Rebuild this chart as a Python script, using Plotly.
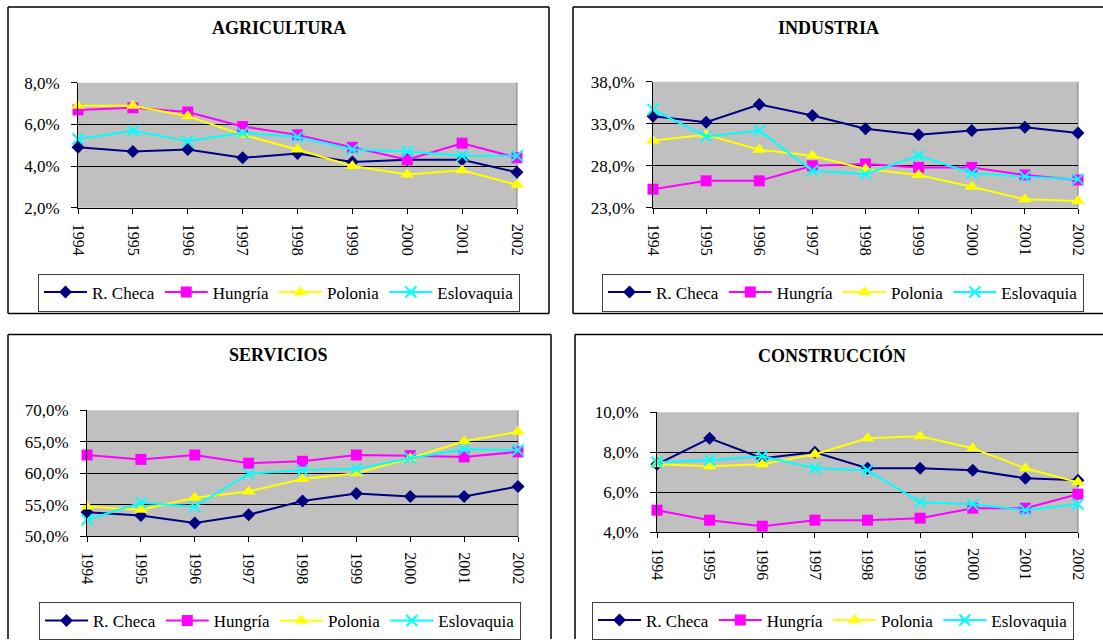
import plotly.graph_objects as go

# Years on the horizontal axis
years = [1994, 1995, 1996, 1997, 1998, 1999, 2000, 2001, 2002]

# Sector shares (%) by country
agri_checa = [4.9, 4.7, 4.8, 4.4, 4.6, 4.2, 4.3, 4.3, 3.7]
agri_hungria = [6.7, 6.8, 6.6, 5.9, 5.5, 4.9, 4.3, 5.1, 4.4]
agri_polonia = [6.9, 6.9, 6.4, 5.5, 4.8, 4.0, 3.6, 3.8, 3.1]
agri_eslovaquia = [5.3, 5.7, 5.2, 5.6, 5.4, 4.8, 4.7, 4.5, 4.5]

ind_checa = [33.9, 33.2, 35.3, 34.0, 32.4, 31.7, 32.2, 32.6, 31.9]
ind_hungria = [25.2, 26.2, 26.2, 28.0, 28.2, 27.8, 27.8, 26.9, 26.3]
ind_polonia = [31.0, 31.7, 29.9, 29.2, 27.6, 26.9, 25.5, 24.0, 23.8]
ind_eslovaquia = [34.7, 31.5, 32.2, 27.4, 27.0, 29.2, 27.1, 26.7, 26.4]

serv_checa = [53.8, 53.3, 52.1, 53.4, 55.6, 56.8, 56.3, 56.3, 57.9]
serv_hungria = [62.9, 62.2, 62.9, 61.6, 61.9, 62.9, 62.8, 62.6, 63.4]
serv_polonia = [54.7, 54.2, 56.1, 57.1, 59.1, 60.0, 62.4, 65.1, 66.6]
serv_eslovaquia = [52.6, 55.3, 54.7, 59.9, 60.5, 60.7, 62.4, 63.8, 63.7]

cons_checa = [7.4, 8.7, 7.7, 8.0, 7.2, 7.2, 7.1, 6.7, 6.6]
cons_hungria = [5.1, 4.6, 4.3, 4.6, 4.6, 4.7, 5.2, 5.2, 5.9]
cons_polonia = [7.4, 7.3, 7.4, 7.9, 8.7, 8.8, 8.2, 7.2, 6.5]
cons_eslovaquia = [7.5, 7.6, 7.8, 7.2, 7.1, 5.5, 5.4, 5.1, 5.4]

countries = ["R. Checa", "Hungría", "Polonia", "Eslovaquia"]
titles = ["AGRICULTURA", "INDUSTRIA", "SERVICIOS", "CONSTRUCCIÓN"]
y_ranges = [(2, 8, 2), (23, 38, 5), (50, 70, 5), (4, 10, 2)]

panels = [
    [agri_checa, agri_hungria, agri_polonia, agri_eslovaquia],
    [ind_checa, ind_hungria, ind_polonia, ind_eslovaquia],
    [serv_checa, serv_hungria, serv_polonia, serv_eslovaquia],
    [cons_checa, cons_hungria, cons_polonia, cons_eslovaquia],
]

W, H = 1103, 640
FONT = "Liberation Serif"


def px(x):
    return x / W


def py(y):
    return 1 - y / H


# Plot areas in pixels: left, top, right, bottom
plot_boxes = [(78, 83, 517, 208), (653, 82, 1078, 208),
              (87, 411, 518, 537), (657, 413, 1078, 533)]
# Outer chart frames (clamped to the page edges)
frames = [(8, 7, 549, 314), (573, 7, W, 314),
          (8, 335, 551, H), (575, 335, W, H)]
# Legend left edge and vertical centre
legend_pos = [(38, 292.5), (602, 292.5), (39, 622), (592, 620.5)]
title_pos = [(279, 28), (828, 28), (278, 356), (832, 356)]

styles = [
    dict(color="#000080", symbol="diamond", size=10),
    dict(color="#FF00FF", symbol="square", size=11),
    dict(color="#FFFF00", symbol="triangle-up", size=12),
    dict(color="#00FFFF", symbol="x-thin", size=11),
]

fig = go.Figure()
shapes = []
annotations = []


def seg(x0, y0, x1, y1, color="black", width=1.5):
    return dict(type="line", xref="paper", yref="paper", layer="below",
                x0=px(x0), y0=py(y0), x1=px(x1), y1=py(y1),
                line=dict(color=color, width=width))


for i, series in enumerate(panels):
    n = i + 1
    xa = "x" if n == 1 else f"x{n}"
    ya = "y" if n == 1 else f"y{n}"
    lg = "legend" if n == 1 else f"legend{n}"
    for name, vals, st in zip(countries, series, styles):
        marker = dict(color=st["color"], symbol=st["symbol"], size=st["size"])
        if st["symbol"] == "x-thin":
            marker["line"] = dict(color=st["color"], width=2)
        fig.add_trace(go.Scatter(
            x=years, y=vals, name=name, mode="lines+markers",
            line=dict(color=st["color"], width=2), marker=marker,
            xaxis=xa, yaxis=ya, legend=lg, cliponaxis=False,
        ))

    l, t, r, b = plot_boxes[i]
    lo, hi, step = y_ranges[i]
    xkey = "xaxis" if n == 1 else f"xaxis{n}"
    ykey = "yaxis" if n == 1 else f"yaxis{n}"
    fig.update_layout(**{
        xkey: dict(
            domain=[px(l), px(r)], anchor=ya, range=[years[0], years[-1]],
            tickvals=years, ticktext=[str(v) for v in years], tickangle=90,
            ticks="outside", ticklen=5, tickcolor="black", showgrid=False,
            showline=True, linecolor="black", linewidth=1, zeroline=False,
            tickfont=dict(family=FONT, size=16, color="black"),
            ticklabelstandoff=7, automargin=False,
        ),
        ykey: dict(
            domain=[py(b), py(t)], anchor=xa, range=[lo, hi], dtick=step,
            tick0=lo, tickformat=".1f", ticksuffix="%", ticks="outside",
            ticklen=6, tickcolor="black", showgrid=True, gridcolor="black",
            gridwidth=1, showline=True, linecolor="black", linewidth=1,
            zeroline=False, tickfont=dict(family=FONT, size=17, color="black"),
            ticklabelstandoff=8, automargin=False,
        ),
    })

    # plot area background and right edge
    shapes.append(dict(type="rect", xref="paper", yref="paper", layer="below",
                       x0=px(l), x1=px(r), y0=py(b), y1=py(t),
                       fillcolor="#C0C0C0", line=dict(width=0)))
    shapes.append(seg(r, t, r, b, color="#808080", width=1))
    # chart frame, drawn side by side so nothing runs past the page
    fl, ft, fr, fb = frames[i]
    shapes.append(seg(fl, ft, fr, ft))
    shapes.append(seg(fl, ft, fl, fb))
    if fr < W:
        shapes.append(seg(fr, ft, fr, fb))
    if fb < H:
        shapes.append(seg(fl, fb, fr, fb))

    tx, ty = title_pos[i]
    annotations.append(dict(text=f"<b>{titles[i]}</b>", x=px(tx), y=py(ty),
                            xref="paper", yref="paper", showarrow=False,
                            xanchor="center", yanchor="middle",
                            font=dict(family=FONT, size=18, color="black")))

    lx, ly = legend_pos[i]
    fig.update_layout(**{lg: dict(
        x=px(lx), y=py(ly), xanchor="left", yanchor="middle",
        orientation="h", bgcolor="white", bordercolor="#404040", borderwidth=1,
        font=dict(family=FONT, size=17, color="black"), itemwidth=43,
        itemclick=False, itemdoubleclick=False, tracegroupgap=0,
    )})

fig.update_layout(
    template="none",
    width=W, height=H, margin=dict(l=0, r=0, t=0, b=0, pad=0),
    paper_bgcolor="white", plot_bgcolor="rgba(0,0,0,0)",
    separators=",.", shapes=shapes, annotations=annotations,
    font=dict(family=FONT, color="black"),
)

fig.write_html(
    "out.html",
    post_script="document.body.style.margin='0';"
                "document.documentElement.style.overflow='hidden';",
)
